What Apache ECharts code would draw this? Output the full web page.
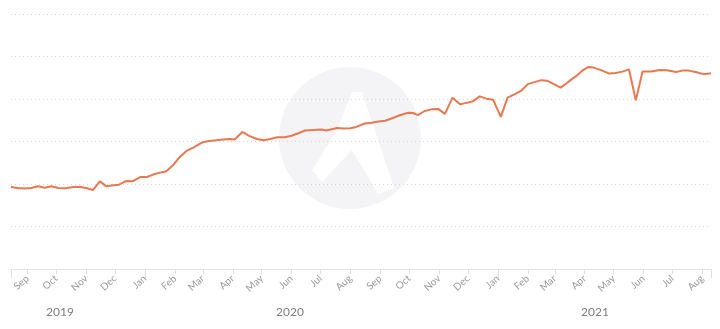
<!DOCTYPE html>
<html>
<head>
<meta charset="utf-8">
<script src="https://cdn.jsdelivr.net/npm/echarts@6/dist/echarts.min.js"></script>
<style>
  html, body { margin: 0; padding: 0; background: #ffffff; }
  #chart { width: 720px; height: 329px; }
</style>
</head>
<body>
<div id="chart"></div>
<script>
// Observation dates (x) and index values (y) of the traffic series
const dates = [
  '2019-08-15','2019-08-22','2019-08-29','2019-09-05','2019-09-12','2019-09-19','2019-09-26',
  '2019-10-03','2019-10-10','2019-10-19','2019-10-26','2019-11-01','2019-11-08','2019-11-15',
  '2019-11-22','2019-11-29','2019-12-05','2019-12-12','2019-12-19','2019-12-27','2020-01-03',
  '2020-01-10','2020-01-17','2020-01-23','2020-01-30','2020-02-06','2020-02-13','2020-02-20',
  '2020-02-29','2020-03-07','2020-03-15','2020-03-22','2020-03-29','2020-04-03','2020-04-11',
  '2020-04-18','2020-04-26','2020-05-03','2020-05-10','2020-05-17','2020-05-25','2020-06-01',
  '2020-06-08','2020-06-15','2020-06-23','2020-07-02','2020-07-07','2020-07-18','2020-07-25',
  '2020-08-01','2020-08-07','2020-08-16','2020-08-23','2020-08-30','2020-09-06','2020-09-14',
  '2020-09-22','2020-09-30','2020-10-05','2020-10-10','2020-10-17','2020-10-24','2020-10-31',
  '2020-11-07','2020-11-15','2020-11-23','2020-11-30','2020-12-06','2020-12-13','2020-12-20',
  '2020-12-27','2021-01-04','2021-01-11','2021-01-18','2021-01-25','2021-02-01','2021-02-07',
  '2021-02-15','2021-02-21','2021-02-28','2021-03-07','2021-03-13','2021-03-18','2021-03-23',
  '2021-03-30','2021-04-05','2021-04-10','2021-04-18','2021-04-26','2021-05-03','2021-05-10',
  '2021-05-17','2021-05-24','2021-05-31','2021-06-09','2021-06-18','2021-06-25','2021-07-05',
  '2021-07-12','2021-07-18','2021-07-26','2021-08-02','2021-08-10'
];
const values = [
  19.28,19.05,18.93,19.05,19.45,19.14,19.45,
  19.05,18.98,19.28,19.28,19.05,18.58,20.63,
  19.45,19.69,19.85,20.70,20.63,21.64,21.64,
  22.28,22.68,22.99,24.40,26.36,27.77,28.57,
  29.75,30.13,30.29,30.46,30.60,30.46,32.25,
  31.31,30.60,30.29,30.60,31.00,31.00,31.36,
  31.94,32.58,32.72,32.82,32.58,33.19,33.05,
  33.12,33.43,34.23,34.42,34.70,34.89,35.53,
  36.24,36.78,36.71,36.19,37.18,37.56,37.67,
  36.49,40.31,38.73,39.14,39.44,40.62,40.08,
  39.84,35.79,40.31,41.09,41.89,43.50,43.92,
  44.44,44.32,43.50,42.67,43.66,44.56,45.38,
  46.75,47.55,47.39,46.80,46.02,46.14,46.44,
  46.96,39.68,46.49,46.49,46.84,46.77,46.37,
  46.73,46.68,46.28,45.85,46.04
];
const monthNames = ['Jan','Feb','Mar','Apr','May','Jun','Jul','Aug','Sep','Oct','Nov','Dec'];
const yearLabels = ['2019', '2020', '2021'];
const yearLabelX = [60, 290, 595];

const axisStart = '2019-08-15';
const axisEnd = '2021-08-10';
const DAY = 86400000;

const chart = echarts.init(document.getElementById('chart'), null, { renderer: 'canvas' });

const lineColor = '#e8784f';
const fontFamily = 'Lato, "Open Sans", sans-serif';

// Faint round badge behind the plot
const badge = [
  {
    type: 'circle',
    shape: { cx: 350, cy: 138, r: 71 },
    style: { fill: '#f4f4f6' },
    z: -10, silent: true
  },
  {
    type: 'polygon',
    shape: { points: [[352, 92], [362, 92], [394, 188], [378, 194], [352, 150], [322, 182], [312, 170], [336, 132]] },
    style: { fill: '#ffffff' },
    z: -9, silent: true
  }
];

const yearTexts = yearLabels.map((t, i) => ({
  type: 'text',
  x: yearLabelX[i],
  y: 312,
  style: {
    text: t,
    fill: '#7d7d7d',
    font: '12px ' + fontFamily,
    textAlign: 'center',
    textVerticalAlign: 'middle'
  },
  z: 10
}));

chart.setOption({
  backgroundColor: '#ffffff',
  animation: false,
  grid: { left: 11, right: 9, top: 14, bottom: 60 },
  graphic: badge.concat(yearTexts),
  xAxis: [
    {
      type: 'time',
      min: axisStart,
      max: axisEnd,
      minInterval: 28 * DAY,
      maxInterval: 31 * DAY,
      splitLine: { show: false },
      axisLine: { show: true, lineStyle: { color: '#e4e4e4', width: 1 } },
      axisTick: { show: true, length: 5, lineStyle: { color: '#dedede' } },
      axisLabel: {
        rotate: 42,
        margin: 8,
        color: '#9a9a9a',
        fontSize: 10,
        fontFamily: fontFamily,
        fontWeight: 'normal',
        hideOverlap: false,
        formatter: function (val) {
          return monthNames[new Date(val).getMonth()];
        }
      }
    },
    {
      // longer ticks marking the start of each year
      type: 'time',
      position: 'bottom',
      min: axisStart,
      max: axisEnd,
      minInterval: 365 * DAY,
      splitLine: { show: false },
      axisLine: { show: false },
      axisTick: { show: true, length: 9, lineStyle: { color: '#dedede' } },
      axisLabel: { show: false }
    }
  ],
  yAxis: {
    type: 'value',
    min: 0,
    max: 60,
    interval: 10,
    axisLine: { show: false },
    axisTick: { show: false },
    axisLabel: { show: false },
    splitLine: { show: true, lineStyle: { color: '#d6d6d6', type: [1, 3], width: 1 } }
  },
  series: [{
    type: 'line',
    xAxisIndex: 0,
    data: dates.map((d, i) => [d, values[i]]),
    showSymbol: false,
    symbol: 'none',
    smooth: false,
    lineStyle: { color: lineColor, width: 2 },
    z: 5
  }]
});
</script>
</body>
</html>
